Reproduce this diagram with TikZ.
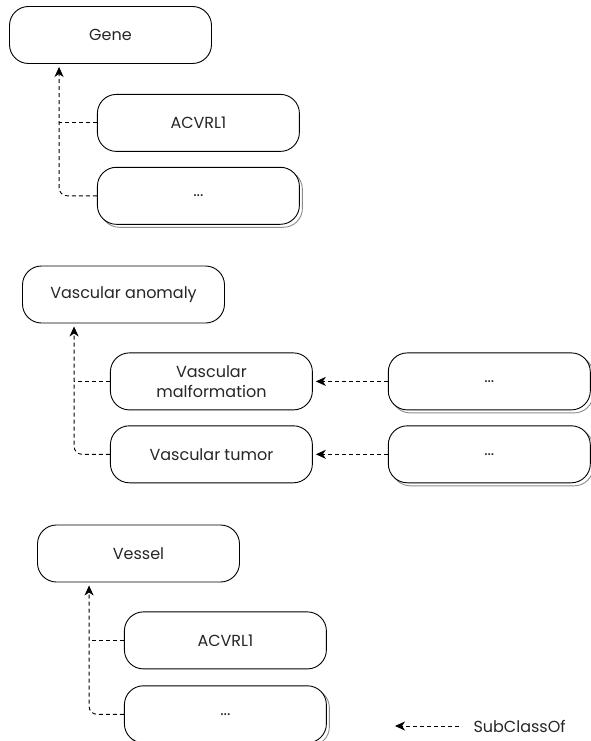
\documentclass[tikz,border=0pt]{standalone}
\usepackage{fontspec}
\setmainfont{Poppins}
\usetikzlibrary{positioning,arrows.meta,shadows,calc}
\tikzset{
	cls/.style={draw, line width=0.9pt, rounded corners=19pt, fill=white,
		minimum width=202pt, minimum height=57pt, align=center,
		text=black!85, font=\fontsize{16}{20}\selectfont},
	stacked/.style={copy shadow={shadow xshift=3pt, shadow yshift=-3pt,
		draw=black!45, fill=white}},
	subline/.style={line width=0.9pt, dash pattern=on 4pt off 3pt},
	subof/.style={subline, -{Stealth[length=10pt,width=9pt,inset=3pt]}, shorten >=3pt},
}
\begin{document}
\begin{tikzpicture}[x=1pt,y=-1pt]
	\useasboundingbox (0,0) rectangle (591,741);

	\node[cls] (gene) at (110.5,35) {Gene};
	\node[cls, below right=30pt and -115pt of gene] (geneA) {ACVRL1};
	\node[cls, stacked, below=15pt of geneA] (geneB) {...};
	\coordinate (geneT) at ($(gene.south west)+(50,0)$);

	\node[cls] (anom) at (123.5,294.5) {Vascular anomaly};
	\node[cls, below right=29pt and -115pt of anom] (malf) {Vascular\\malformation};
	\node[cls, below=15pt of malf] (tumor) {Vascular tumor};
	\node[cls, stacked, right=75pt of malf] (malfB) {...};
	\node[cls, stacked, right=75pt of tumor] (tumorB) {...};
	\coordinate (anomT) at ($(anom.south west)+(52,0)$);

	\node[cls] (vessel) at (138.5,553.5) {Vessel};
	\node[cls, below right=29pt and -116pt of vessel] (vesA) {ACVRL1};
	\node[cls, stacked, below=16pt of vesA] (vesB) {...};
	\coordinate (vesT) at ($(vessel.south west)+(52,0)$);

	\node[anchor=west, text=black!85, font=\fontsize{16}{20}\selectfont] (legend) at (470,726) {SubClassOf};
	\coordinate (legendS) at (459,726);
	\coordinate (legendE) at (395,726);

	\draw[subof, rounded corners=8pt] (geneB.west) -| (geneT);
	\draw[subline] (geneA.west) -- (geneA.west -| geneT);

	\draw[subof, rounded corners=8pt] (tumor.west) -| (anomT);
	\draw[subline] (malf.west) -- (malf.west -| anomT);
	\draw[subof] (malfB.west) -- (malf.east);
	\draw[subof] (tumorB.west) -- (tumor.east);

	\draw[subof, rounded corners=8pt] (vesB.west) -| (vesT);
	\draw[subline] (vesA.west) -- (vesA.west -| vesT);

	\draw[subof, shorten >=0pt] (legendS) -- (legendE);
\end{tikzpicture}
\end{document}
